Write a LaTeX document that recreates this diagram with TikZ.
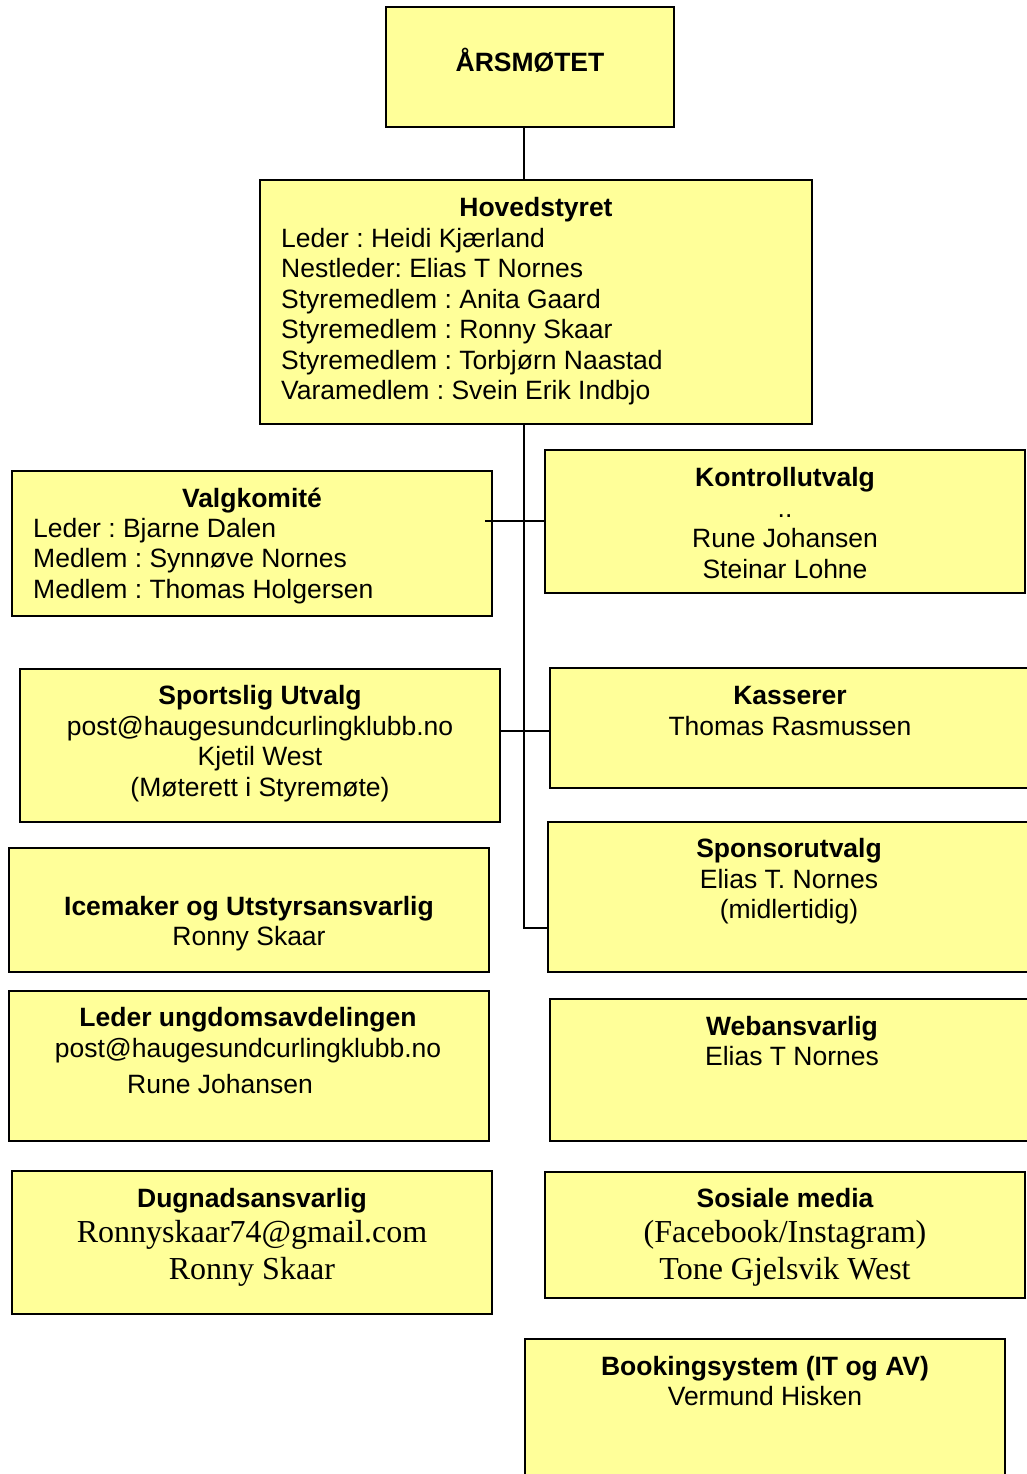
\documentclass[tikz,border=0pt]{standalone}
\usepackage{fontspec}
\setmainfont{Liberation Sans}
\newfontfamily\serifr{Liberation Serif}
\definecolor{boxyellow}{HTML}{FFFF99}
\frenchspacing
\begin{document}
\frenchspacing
\begin{tikzpicture}[x=1pt,y=-1pt,
  box/.style={draw=black, line width=2pt, fill=boxyellow, anchor=north west, inner sep=0pt, outer sep=0pt},
  conn/.style={draw=black, line width=2pt},
  txt/.style={inner sep=0pt, anchor=base, yshift=1pt, font=\fontsize{26.5}{30.5}\selectfont},
  ttl/.style={inner sep=0pt, anchor=base, yshift=1pt, font=\fontsize{26.5}{30.5}\selectfont\bfseries},
  lst/.style={inner sep=0pt, anchor=base west, yshift=1pt, font=\fontsize{26.5}{30.5}\selectfont},
  ser/.style={inner sep=0pt, anchor=base, yshift=1pt, font=\serifr\fontsize{32}{37}\selectfont}]
\useasboundingbox (0,0) rectangle (1027,1474);
\fill[white] (0,0) rectangle (1027,1474);
\clip (0,0) rectangle (1027,1474);

% boxes
\node[box, minimum width=288pt, minimum height=120pt] (ars) at (386,7) {};
\node[box, minimum width=552pt, minimum height=244pt] (hov) at (260,180) {};
\node[box, minimum width=480pt, minimum height=145pt] (val) at (12,471) {};
\node[box, minimum width=480pt, minimum height=143pt] (kon) at (545,450) {};
\node[box, minimum width=480pt, minimum height=153pt] (spu) at (20,669) {};
\node[box, minimum width=500pt, minimum height=120pt] (kas) at (550,668) {};
\node[box, minimum width=480pt, minimum height=124pt] (ice) at (9,848) {};
\node[box, minimum width=500pt, minimum height=150pt] (spo) at (548,822) {};
\node[box, minimum width=480pt, minimum height=150pt] (ung) at (9,991) {};
\node[box, minimum width=500pt, minimum height=142pt] (web) at (550,999) {};
\node[box, minimum width=480pt, minimum height=143pt] (dug) at (12,1171) {};
\node[box, minimum width=480pt, minimum height=126pt] (sos) at (545,1172) {};
\node[box, minimum width=480pt, minimum height=160pt] (boo) at (525,1339) {};

% texts
\node[ttl] (t-ars) at (530,73) {ÅRSMØTET};

\node[ttl] (t-hov) at (536,217) {Hovedstyret};
\node[lst] (l-hov) at (281,248) {\begin{tabular}[t]{@{}l@{}}Leder : Heidi Kjærland\\
Nestleder: Elias T Nornes\\
Styremedlem : Anita Gaard\\
Styremedlem : Ronny Skaar\\
Styremedlem : Torbjørn Naastad\\
Varamedlem : Svein Erik Indbjo\end{tabular}};

\node[ttl] (t-val) at (252,508) {Valgkomité};
\node[lst] (l-val) at (33,538) {\begin{tabular}[t]{@{}l@{}}Leder : Bjarne Dalen\\
Medlem : Synnøve Nornes\\
Medlem : Thomas Holgersen\end{tabular}};

\node[ttl] (t-kon) at (785,487) {Kontrollutvalg};
\node[txt] (l-kon) at (785,518) {\begin{tabular}[t]{@{}c@{}}..\\Rune Johansen\\Steinar Lohne\end{tabular}};

\node[ttl] (t-spu) at (260,705) {Sportslig Utvalg};
\node[txt] (l-spu) at (260,736) {\begin{tabular}[t]{@{}c@{}}post@haugesundcurlingklubb.no\\Kjetil West\\(Møterett i Styremøte)\end{tabular}};

\node[ttl] (t-kas) at (790,705) {Kasserer};
\node[txt] (l-kas) at (790,736) {Thomas Rasmussen};

\node[ttl] (t-ice) at (249,916) {Icemaker og Utstyrsansvarlig};
\node[txt] (l-ice) at (249,946) {Ronny Skaar};

\node[ttl] (t-spo) at (789,858) {Sponsorutvalg};
\node[txt] (l-spo) at (789,889) {\begin{tabular}[t]{@{}c@{}}Elias T. Nornes\\(midlertidig)\end{tabular}};

\node[ttl] (t-ung) at (248,1027) {Leder ungdomsavdelingen};
\node[txt] (l-ung) at (248,1058) {post@haugesundcurlingklubb.no};
\node[txt] (m-ung) at (220,1094) {Rune Johansen};

\node[ttl] (t-web) at (792,1036) {Webansvarlig};
\node[txt] (l-web) at (792,1066) {Elias T Nornes};

\node[ttl] (t-dug) at (252,1208) {Dugnadsansvarlig};
\node[ser] (l-dug) at (252,1243) {\begin{tabular}[t]{@{}c@{}}Ronnyskaar74@gmail.com\\Ronny Skaar\end{tabular}};

\node[ttl] (t-sos) at (785,1208) {Sosiale media};
\node[ser] (l-sos) at (785,1243) {\begin{tabular}[t]{@{}c@{}}(Facebook/Instagram)\\Tone Gjelsvik West\end{tabular}};

\node[ttl] (t-boo) at (765,1376) {Bookingsystem (IT og AV)};
\node[txt] (l-boo) at (765,1406) {Vermund Hisken};

% connectors
\coordinate (vx) at (524,0);
\coordinate (bend) at (524,928);
\coordinate (k0) at (485,521);
\coordinate (sy) at (0,731);
\draw[conn] (vx |- ars.south) -- (vx |- hov.north);
\draw[conn] (vx |- hov.south) -- (bend) -- (bend -| spo.west);
\draw[conn] (k0) -- (k0 -| kon.west);
\draw[conn] (spu.east |- sy) -- (kas.west |- sy);
\end{tikzpicture}
\end{document}
